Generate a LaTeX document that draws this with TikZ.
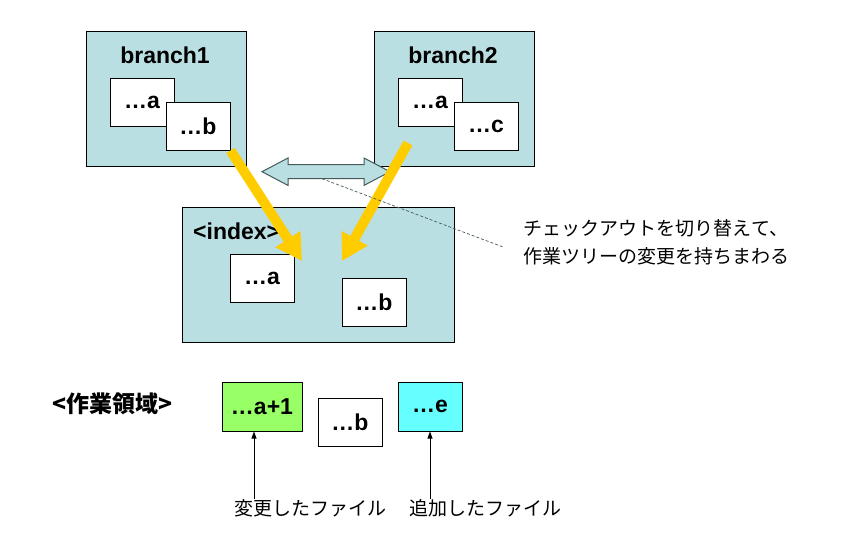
\documentclass[tikz,border=0pt]{standalone}
\usepackage{fontspec}
\setmainfont{Liberation Sans}
\newfontfamily\jp{Noto Sans CJK JP}
\usetikzlibrary{arrows.meta}

\definecolor{areafill}{RGB}{186,223,226}
\definecolor{changedfill}{RGB}{153,255,102}
\definecolor{addedfill}{RGB}{102,255,255}
\definecolor{moveyellow}{RGB}{255,204,0}
\definecolor{swapline}{RGB}{70,90,90}

\begin{document}
\begin{tikzpicture}[x=1pt,y=-1pt] % координаты в пикселях
\tikzstyle{area} = [draw, line width=1pt, fill=areafill, minimum width=160pt, minimum height=135pt, inner sep=0pt] % ветка / индекс
\tikzstyle{file} = [draw, line width=1pt, fill=white, minimum width=64pt, minimum height=48pt, inner sep=0pt, font=\fontsize{23}{26}\selectfont\bfseries] % файл
\tikzstyle{title} = [inner sep=0pt, font=\fontsize{23}{26}\selectfont\bfseries]
\tikzstyle{note} = [inner sep=0pt, align=center, font=\jp\fontsize{19}{28}\selectfont]
\tikzstyle{move} = [line width=10pt, draw=moveyellow, -{Triangle[length=26pt,width=28pt]}] % желтая стрелка
\tikzstyle{pointer} = [line width=0.8pt, -{Triangle[length=7pt,width=5pt]}]

\useasboundingbox (0,0) rectangle (841,552);

% ветки
\node[area] (b1) at (166.5,98.5) {};
\node[title] at (165,55) {branch1};
\node[file] (b1a) at (142,102) {…a};
\node[file] (b1b) at (198,126) {…b};

\node[area] (b2) at (454,98.5) {};
\node[title] at (453,55) {branch2};
\node[file] (b2a) at (430,102) {…a};
\node[file] (b2c) at (486,126) {…c};

% индекс
\node[area, minimum width=272pt] (idx) at (318,274.5) {};
\node[title, anchor=west] at (193,231) {<index>};
\node[file] (idxa) at (262,278) {…a};
\node[file] (idxb) at (374,302) {…b};

% переключение
\draw[line width=1pt, draw=swapline, fill=areafill] (262,171.7) -- (288,158) -- (288,164.7) -- (364,164.7) -- (364,158) -- (390,171.7) -- (364,185.4) -- (364,178.7) -- (288,178.7) -- (288,185.4) -- cycle;
\coordinate (swapfoot) at (322,178.7);

\coordinate (b2out) at (408,143);
\coordinate (idxin1) at (302,261);
\coordinate (idxin2) at (342,261);
\draw[move] (b1b.south east) -- (idxin1);
\draw[move] (b2out) -- (idxin2);

\node[note] (swapnote) at (656,242) {チェックアウトを切り替えて、\\作業ツリーの変更を持ちまわる};
\coordinate (noteend) at (503,247);
\draw[dashed, line width=0.7pt, draw=swapline, dash pattern=on 3pt off 2pt] (swapfoot) -- (noteend);

% рабочая область
\node[inner sep=0pt, anchor=west, font=\jp\bfseries\fontsize{23}{26}\selectfont] (work) at (52,404) {<作業領域>};
\node[file, fill=changedfill, minimum width=80pt, minimum height=49pt] (wka) at (262,406.5) {…a+1};
\node[file] (wkb) at (350,422) {…b};
\node[file, fill=addedfill, minimum height=49pt] (wke) at (430,406.5) {…e};

\node[note] (changed) at (310,508) {変更したファイル};
\node[note] (added) at (485,508) {追加したファイル};
\draw[pointer] (changed.north -| 254,0) -- (254,0 |- wka.south);
\draw[pointer] (added.north -| wke.south) -- (wke.south);
\end{tikzpicture}
\end{document}
